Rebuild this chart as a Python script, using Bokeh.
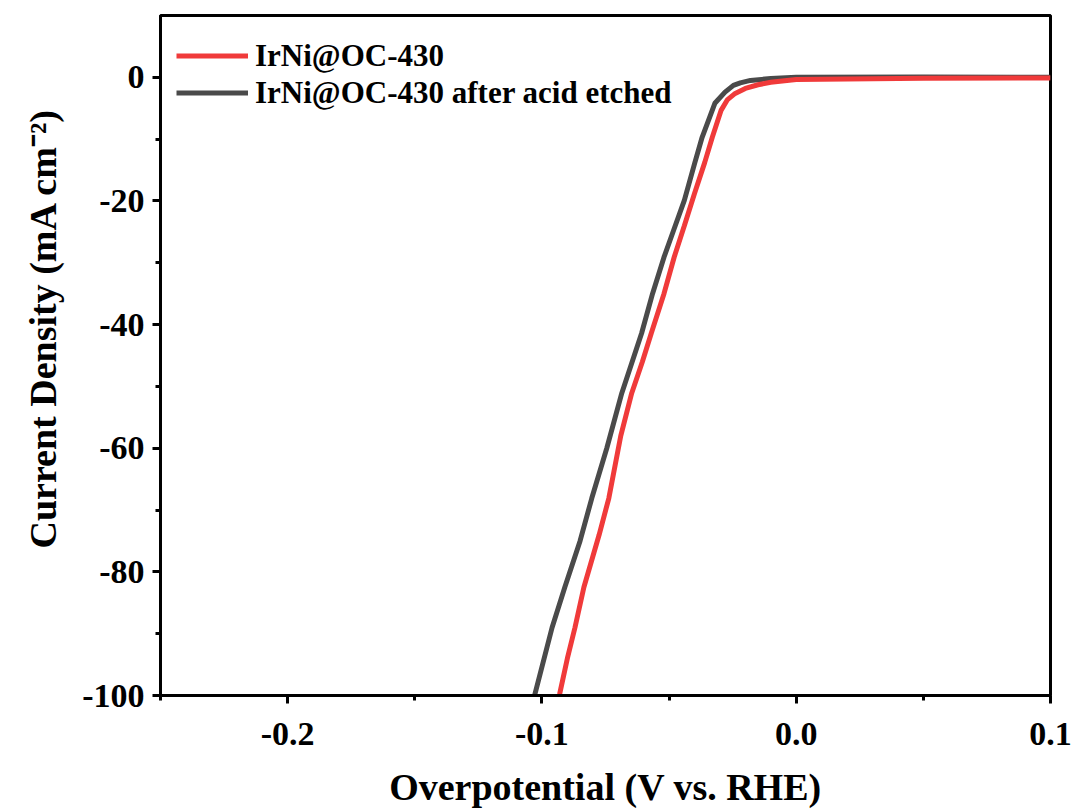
from bokeh.plotting import figure
from bokeh.models import Range1d, Legend, LegendItem, FixedTicker, Title
from bokeh.embed import file_html
from bokeh.resources import INLINE

# Data (overpotential V, current density mA cm-2)
red_x = [0.1, 0.05, 0.0, -0.01, -0.015, -0.02, -0.024, -0.027, -0.0295, -0.033,
         -0.036, -0.040, -0.044, -0.048, -0.052, -0.057, -0.0605, -0.0647, -0.069,
         -0.0737, -0.0775, -0.0835, -0.087, -0.090, -0.093, -0.0935]
red_y = [-0.1, -0.15, -0.35, -0.8, -1.2, -1.8, -2.6, -3.6, -5.3, -9.7,
         -13.8, -18.8, -24.0, -29.1, -35.0, -41.4, -46.0, -51.1, -58.0,
         -68.1, -74.0, -82.5, -89.0, -94.0, -99.7, -100.5]

black_x = [0.1, 0.05, 0.0, -0.01, -0.018, -0.022, -0.0247, -0.028, -0.032, -0.037,
           -0.040, -0.044, -0.048, -0.052, -0.0565, -0.0608, -0.0686, -0.0745,
           -0.0804, -0.085, -0.091, -0.096, -0.1027, -0.1035]
black_y = [0.0, 0.05, 0.0, -0.2, -0.5, -0.9, -1.3, -2.4, -4.2, -9.7,
           -14.0, -19.9, -24.5, -29.1, -35.0, -41.4, -51.1, -60.0,
           -68.1, -75.0, -82.5, -89.0, -99.7, -101.0]

series_names = ["IrNi@OC-430", "IrNi@OC-430 after acid etched"]
x_ticks = [-0.2, -0.1, 0.0, 0.1]
x_tick_labels = ["-0.2", "-0.1", "0.0", "0.1"]
y_ticks = [0, -20, -40, -60, -80, -100]
y_tick_labels = ["0", "-20", "-40", "-60", "-80", "-100"]

FONT = "Liberation Serif"

p = figure(width=1072, height=810, output_backend="svg", toolbar_location=None,
           x_range=Range1d(-0.25, 0.1), y_range=Range1d(-100, 10),
           min_border_left=160, min_border_right=22, min_border_top=15,
           min_border_bottom=115)

p.grid.visible = False
p.background_fill_color = "white"
p.outline_line_color = "black"
p.outline_line_width = 3

r_black = p.line(black_x, black_y, line_color="#4a4a4a", line_width=5)
r_red = p.line(red_x, red_y, line_color="#f03a3a", line_width=5)

for ax in (p.xaxis[0], p.yaxis[0]):
    ax.axis_line_width = 3
    ax.major_tick_line_width = 3
    ax.minor_tick_line_width = 3
    ax.major_tick_in = 0
    ax.major_tick_out = 8
    ax.minor_tick_in = 0
    ax.minor_tick_out = 5
    ax.major_label_text_font = FONT
    ax.major_label_text_font_style = "bold"
    ax.major_label_text_font_size = "34px"
    ax.major_label_text_color = "black"
    ax.axis_label_text_font = FONT
    ax.axis_label_text_font_style = "bold"
    ax.axis_label_text_font_size = "38px"
    ax.axis_label_text_color = "black"

p.xaxis[0].ticker = FixedTicker(ticks=x_ticks, minor_ticks=[-0.25, -0.15, -0.05, 0.05])
p.yaxis[0].ticker = FixedTicker(ticks=y_ticks, minor_ticks=[-10, -30, -50, -70, -90])
p.xaxis[0].major_label_overrides = dict(zip(x_ticks, x_tick_labels))
p.yaxis[0].major_label_overrides = dict(zip(y_ticks, y_tick_labels))
p.xaxis[0].axis_label = "Overpotential (V vs. RHE)"
p.xaxis[0].major_label_standoff = 19
p.xaxis[0].axis_label_standoff = 18
p.yaxis[0].major_label_standoff = 8

ytitle = Title(text="Current Density (mA cm\u207b\u00b2)", align="left", offset=147,
               standoff=28, vertical_align="top", text_font=FONT,
               text_font_style="bold", text_font_size="38px", text_color="black")
p.add_layout(ytitle, "left")

legend = Legend(items=[LegendItem(label=series_names[0], renderers=[r_red]),
                       LegendItem(label=series_names[1], renderers=[r_black])],
                location=(16, 584))
legend.background_fill_alpha = 0
legend.border_line_alpha = 0
legend.margin = 0
legend.padding = 0
legend.spacing = 0
legend.glyph_width = 72
legend.glyph_height = 37
legend.label_height = 37
legend.label_standoff = 7
legend.label_text_font = FONT
legend.label_text_font_style = "bold"
legend.label_text_font_size = "31px"
legend.label_text_color = "black"
p.add_layout(legend, "center")

open("out.html", "w").write(file_html(p, INLINE))
